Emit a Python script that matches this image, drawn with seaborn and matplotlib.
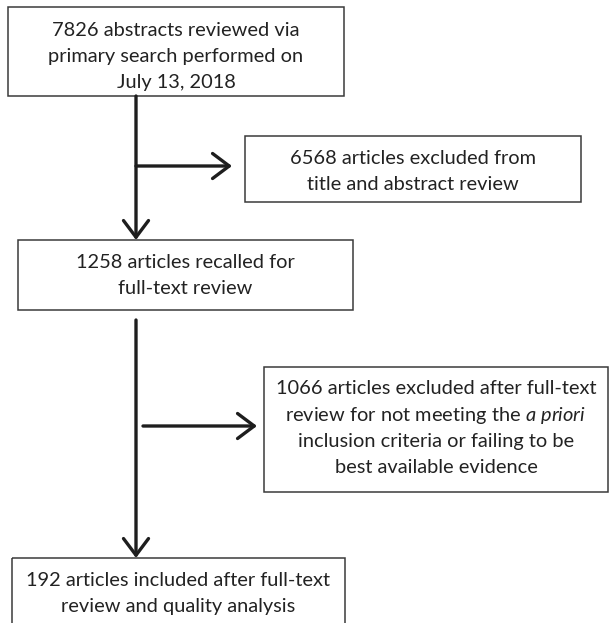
# %%
import matplotlib.pyplot as plt
import seaborn as sns
from matplotlib.patches import Rectangle

sns.set_theme(style="white")
plt.rcParams["font.family"] = ["Lato", "DejaVu Sans"]
plt.rcParams["mathtext.fontset"] = "custom"
plt.rcParams["mathtext.rm"] = "Lato"
plt.rcParams["mathtext.it"] = "Lato:italic"

# %%
# counts at each stage of the review
n_reviewed = 7826
n_excluded_screen = 6568
n_recalled = 1258
n_excluded_fulltext = 1066
n_included = 192
search_date = "July 13, 2018"

stage_lines = [
    [f"{n_reviewed} abstracts reviewed via", "primary search performed on", search_date],
    [f"{n_excluded_screen} articles excluded from", "title and abstract review"],
    [f"{n_recalled} articles recalled for", "full-text review"],
    [f"{n_excluded_fulltext} articles excluded after full-text",
     r"review for not meeting the $\mathit{a\ priori}$",
     "inclusion criteria or failing to be",
     "best available evidence"],
    [f"{n_included} articles included after full-text", "review and quality analysis"],
]

# box layout in pixel units: left, top, right, bottom
boxes = [
    (8, 7, 344, 96),
    (245, 136, 581, 202),
    (18, 240, 353, 310),
    (264, 367, 608, 492),
    (12, 558, 345, 640),
]
text_top = [30, 158, 262, 389, 580]
line_gap = 26.3

edge = "#3a3a3a"
ink = "#1e1e1e"

# %%
fig = plt.figure(figsize=(6.1, 6.23), dpi=100)
ax = fig.add_axes([0, 0, 1, 1])
ax.set_xlim(0, 610)
ax.set_ylim(623, 0)
ax.axis("off")

for (x0, y0, x1, y1), lines, ty in zip(boxes, stage_lines, text_top):
    ax.add_patch(Rectangle((x0, y0), x1 - x0, y1 - y0, fill=False,
                           edgecolor=edge, lw=1.1))
    cx = (x0 + x1) / 2
    for i, line in enumerate(lines):
        ax.text(cx, ty + i * line_gap, line, ha="center", va="center",
                fontsize=14.4, color="#222222")

arrow = dict(arrowstyle="->,head_length=0.6,head_width=0.45", lw=2.4,
             color=ink, shrinkA=0, shrinkB=0, mutation_scale=20)

# trunk arrows
ax.annotate("", xy=(136, 240), xytext=(136, 96), arrowprops=arrow)
ax.annotate("", xy=(136, 558), xytext=(136, 320), arrowprops=arrow)
# side arrows to exclusions
ax.annotate("", xy=(232, 166), xytext=(136, 166), arrowprops=arrow)
ax.annotate("", xy=(257, 426), xytext=(143, 426), arrowprops=arrow)

fig.savefig("out.png", dpi=100, facecolor="white")
